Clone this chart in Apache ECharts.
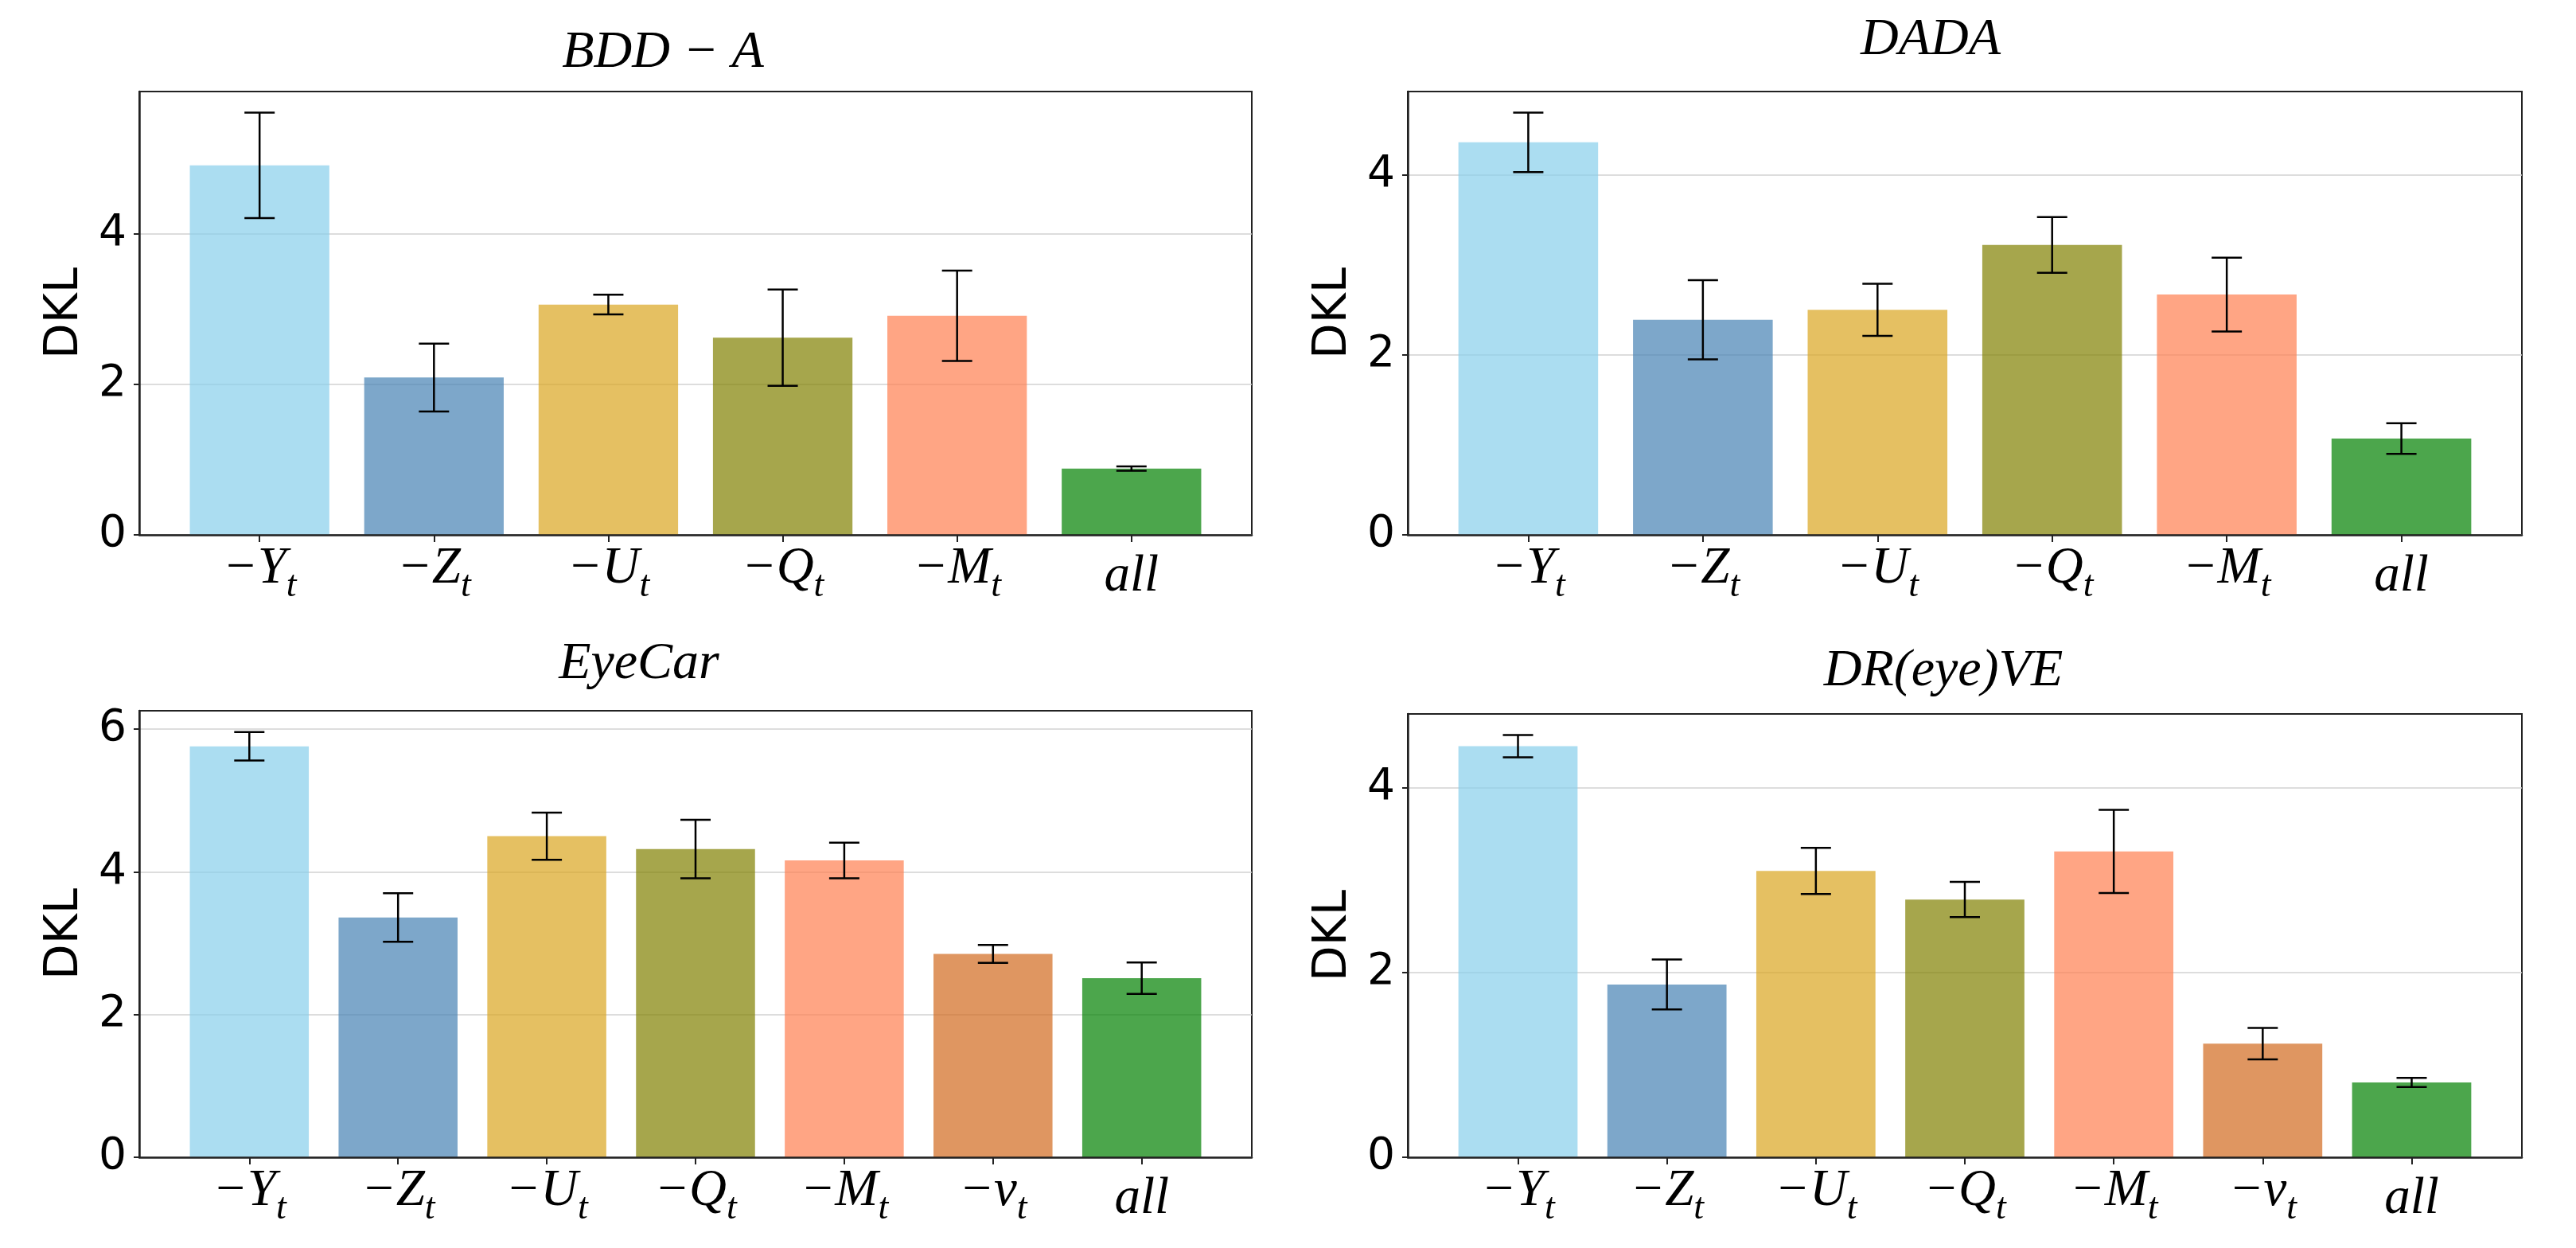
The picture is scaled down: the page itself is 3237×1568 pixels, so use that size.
<!DOCTYPE html>
<html>
<head>
<meta charset="utf-8">
<script src="https://cdn.jsdelivr.net/npm/echarts@6/dist/echarts.min.js"></script>
<style>
  html, body { margin: 0; padding: 0; background: #ffffff; }
  #main { width: 3237px; height: 1568px; }
</style>
</head>
<body>
<div id="main"></div>
<script>
// category labels (subscript after "_")
const labels6 = ['−Y_t', '−Z_t', '−U_t', '−Q_t', '−M_t', 'all'];
const labels7 = ['−Y_t', '−Z_t', '−U_t', '−Q_t', '−M_t', '−v_t', 'all'];

// mean DKL and error (half length of the error bar) per dataset
const bddMean = [4.91, 2.09, 3.06, 2.62, 2.91, 0.88];
const bddErr  = [0.70, 0.45, 0.13, 0.64, 0.60, 0.03];
const dadaMean = [4.36, 2.39, 2.50, 3.22, 2.67, 1.07];
const dadaErr  = [0.33, 0.44, 0.29, 0.31, 0.41, 0.17];
const eyecarMean = [5.76, 3.36, 4.50, 4.32, 4.16, 2.85, 2.51];
const eyecarErr  = [0.20, 0.34, 0.33, 0.41, 0.25, 0.125, 0.22];
const drMean = [4.45, 1.87, 3.10, 2.79, 3.31, 1.23, 0.81];
const drErr  = [0.12, 0.27, 0.25, 0.19, 0.45, 0.17, 0.05];

const yTicks = [0, 2, 4, 6];

// bar colours (matplotlib named colours at alpha 0.7)
const colors7 = [
  'rgba(135,206,235,0.7)', // skyblue
  'rgba(70,130,180,0.7)',  // steelblue
  'rgba(218,165,32,0.7)',  // goldenrod
  'rgba(128,128,0,0.7)',   // olive
  'rgba(255,127,80,0.7)',  // coral
  'rgba(210,105,30,0.7)',  // chocolate
  'rgba(0,128,0,0.7)'      // green
];
const colors6 = colors7.filter((c, i) => i !== 5);

const panels = [
  { title: 'BDD − A',   labels: labels6, mean: bddMean,    err: bddErr,    colors: colors6, box: [175, 115, 1398, 557], titleAt: [833, 67] },
  { title: 'DADA',      labels: labels6, mean: dadaMean,   err: dadaErr,   colors: colors6, box: [1769, 115, 1400, 557], titleAt: [2426, 51] },
  { title: 'EyeCar',    labels: labels7, mean: eyecarMean, err: eyecarErr, colors: colors7, box: [175, 893, 1398, 561], titleAt: [803, 835] },
  { title: 'DR(eye)VE', labels: labels7, mean: drMean,     err: drErr,     colors: colors7, box: [1769, 897, 1400, 557], titleAt: [2442, 844] }
];

const SANS = 'DejaVu Sans';
const SERIF = 'Liberation Serif';
const INK = '#222222';

const grid = [], xAxis = [], yAxis = [], series = [], graphic = [];

// frame grids first (0..3), then the bar grids (4..7)
panels.forEach((p, k) => {
  const [x, y, w, h] = p.box;
  const ymax = Math.max(...p.mean.map((m, i) => m + p.err[i])) * 1.05;
  p.ymax = ymax;
  grid.push({ left: x, top: y, width: w, height: h, show: true,
              borderColor: INK, borderWidth: 2, backgroundColor: 'rgba(0,0,0,0)' });
  xAxis.push({ gridIndex: k, type: 'value', min: 0, max: 1, z: 10,
               axisLine: { show: true, lineStyle: { color: INK, width: 2.5 } },
               axisTick: { show: false }, axisLabel: { show: false }, splitLine: { show: false } });
  yAxis.push({
    gridIndex: k, type: 'value', min: 0, max: ymax, interval: 2,
    name: 'DKL', nameLocation: 'middle', nameGap: 64,
    nameTextStyle: { fontFamily: SANS, fontSize: 58, color: '#000' },
    axisLine: { show: true, lineStyle: { color: INK, width: 2.5 } },
    axisTick: { show: true, length: 7, lineStyle: { color: INK, width: 2 },
                customValues: yTicks.filter(t => t <= ymax) },
    axisLabel: { fontFamily: SANS, fontSize: 55, color: '#000', margin: 16,
                 customValues: yTicks.filter(t => t <= ymax),
                 formatter: v => (yTicks.includes(v) ? String(v) : '') },
    splitLine: { show: true, lineStyle: { color: '#d2d2d2', width: 1.6 } }
  });
  graphic.push({
    type: 'text', x: p.titleAt[0], y: p.titleAt[1],
    style: { text: p.title, fill: '#000', align: 'center', verticalAlign: 'middle',
             font: 'italic 66px "' + SERIF + '"' }
  });
});

function renderErr(params, api) {
  const i = api.value(0);
  const lo = api.coord([i, api.value(1)]);
  const hi = api.coord([i, api.value(2)]);
  const c = 19;
  const style = { stroke: '#000', lineWidth: 2.5 };
  return {
    type: 'group',
    children: [
      { type: 'line', shape: { x1: lo[0], y1: lo[1], x2: hi[0], y2: hi[1] }, style },
      { type: 'line', shape: { x1: lo[0] - c, y1: lo[1], x2: lo[0] + c, y2: lo[1] }, style },
      { type: 'line', shape: { x1: hi[0] - c, y1: hi[1], x2: hi[0] + c, y2: hi[1] }, style }
    ]
  };
}

panels.forEach((p, k) => {
  const [x, y, w, h] = p.box;
  const n = p.labels.length;
  // matplotlib: bar width 0.8, 5% x-margins
  const band = w / ((n - 1 + 0.8) * 1.1);
  const inset = (w - n * band) / 2;
  const gi = 4 + k;
  grid.push({ left: x + inset, top: y, width: n * band, height: h });
  xAxis.push({
    gridIndex: gi, type: 'category', data: p.labels,
    axisLine: { show: false },
    axisTick: { show: true, alignWithLabel: true, length: 9, lineStyle: { color: INK, width: 2 } },
    axisLabel: {
      margin: 7, interval: 0, color: '#000',
      formatter: v => {
        const s = v.split('_');
        return s.length > 1 ? '{m|' + s[0] + '}{s|' + s[1] + '}' : '{n|' + v + '}';
      },
      rich: {
        m: { fontFamily: SERIF, fontStyle: 'italic', fontSize: 65, lineHeight: 72, color: '#000' },
        s: { fontFamily: SERIF, fontStyle: 'italic', fontSize: 46, lineHeight: 46, padding: [44, 0, 0, 0], color: '#000' },
        n: { fontFamily: SERIF, fontStyle: 'italic', fontSize: 65, lineHeight: 72, padding: [20, 0, 0, 0], color: '#000' }
      }
    },
    splitLine: { show: false }
  });
  yAxis.push({ gridIndex: gi, type: 'value', min: 0, max: p.ymax, show: false, splitLine: { show: false } });

  series.push({
    type: 'bar', xAxisIndex: gi, yAxisIndex: gi, barWidth: '80%',
    data: p.mean.map((v, i) => ({ value: v, itemStyle: { color: p.colors[i] } })),
    emphasis: { disabled: true }
  });
  series.push({
    type: 'custom', xAxisIndex: gi, yAxisIndex: gi, z: 5,
    renderItem: renderErr,
    data: p.mean.map((v, i) => [i, v - p.err[i], v + p.err[i]])
  });
});

const chart = echarts.init(document.getElementById('main'));
chart.setOption({
  backgroundColor: '#ffffff',
  animation: false,
  grid, xAxis, yAxis, series, graphic
});
</script>
</body>
</html>
